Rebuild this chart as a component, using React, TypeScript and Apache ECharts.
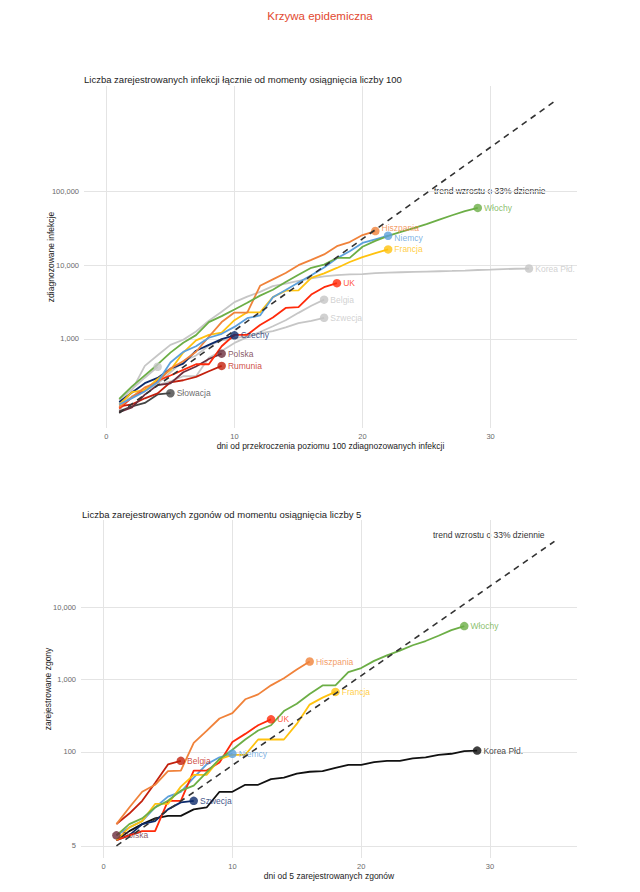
import { useEffect, useRef } from "react";
import * as echarts from "echarts";

// cases since 100th, day 1 onward
const infWlochy = [155, 229, 322, 453, 655, 888, 1128, 1694, 2036, 2502, 3089, 3858, 4636, 5883, 7375, 9172, 10149, 12462, 12462, 17660, 21157, 24747, 27980, 31506, 35713, 41035, 47021, 53578, 59138];
const infHiszpania = [120, 165, 222, 259, 400, 500, 673, 1073, 1695, 2277, 2277, 5232, 6391, 7798, 9942, 11748, 13910, 17963, 20410, 25374, 28768];
const infNiemcy = [130, 159, 196, 262, 482, 670, 799, 1040, 1176, 1457, 1908, 2078, 3675, 4585, 5795, 7272, 9257, 12327, 15320, 19848, 22213, 24873];
const infFrancja = [130, 191, 204, 288, 380, 656, 959, 1136, 1219, 1794, 2293, 2293, 3681, 4496, 4532, 6683, 7715, 9124, 10970, 12758, 14463, 16243];
const infKorea = [104, 204, 433, 602, 833, 977, 1261, 1766, 2337, 3150, 3736, 4335, 5186, 5621, 6088, 6593, 7041, 7314, 7478, 7513, 7755, 7869, 7979, 8086, 8162, 8236, 8320, 8413, 8565, 8652, 8799, 8897, 8961];
const infUK = [115, 163, 206, 273, 321, 382, 456, 456, 798, 1140, 1140, 1543, 1950, 2626, 2689, 3983, 5018, 5683];
const infBelgia = [109, 169, 200, 239, 267, 314, 314, 559, 689, 886, 1058, 1243, 1486, 1795, 2257, 2815, 3401];
const infSzwecja = [137, 161, 203, 248, 355, 500, 599, 814, 961, 1022, 1103, 1190, 1279, 1439, 1639, 1763, 1934];
const infCzechy = [141, 189, 253, 298, 396, 464, 694, 833, 995, 1120];
const infPolska = [103, 119, 177, 238, 251, 355, 425, 536, 634];
const infRumunia = [123, 131, 158, 184, 260, 277, 308, 367, 433];
const infSlowacja = [105, 123, 137, 178, 185];
const infInny = [150, 210, 300, 421];
const trendInf = [[1, 100], [35, 1627000]];

// deaths since 5th, day 1 onward
const zgWlochy = [7, 10, 12, 17, 21, 29, 34, 52, 79, 107, 148, 197, 233, 366, 463, 631, 827, 827, 1266, 1441, 1809, 2158, 2503, 2978, 3405, 4032, 4825, 5476];
const zgHiszpania = [10, 17, 28, 35, 54, 55, 133, 195, 289, 342, 533, 623, 830, 1043, 1375, 1772];
const zgFrancja = [6, 9, 11, 19, 19, 33, 48, 48, 79, 91, 91, 148, 148, 148, 243, 450, 562, 674];
const zgUK = [6, 7, 8, 8, 21, 21, 55, 55, 71, 137, 177, 233, 281];
const zgNiemcy = [7, 9, 11, 17, 24, 28, 44, 67, 84, 94];
const zgBelgia = [10, 14, 21, 37, 67, 75];
const zgSzwecja = [6, 7, 10, 11, 16, 20, 21];
const zgKorea = [6, 8, 10, 12, 13, 13, 16, 17, 28, 28, 35, 35, 42, 44, 50, 53, 54, 60, 66, 66, 72, 75, 75, 81, 84, 91, 94, 102, 104];
const zgPolska = [7];
const trendZg = [[1, 5], [35, 81350]];

const xTicks = [0, 10, 20, 30];
const yBreaksInf = [1000, 10000, 100000];
const yBreaksZg = [5, 100, 1000, 10000];

const C = {
  green: "#6cae46",
  orange: "#f0823a",
  blue: "#5ca0dc",
  gold: "#ffc20e",
  red: "#ff2a0a",
  darkRed: "#c3200d",
  maroon: "#6c2d3c",
  navy: "#0c2a6c",
  grey: "#c6c6c6",
  dark: "#454545",
  black: "#111111",
  grid: "#e4e4e4",
  text: "#222222",
  axis: "#6a6a6a",
};

const FONT = "'Liberation Sans', Arial, sans-serif";

function lineOf(name: string, values: number[], color: string, g: number, label = true, offset: number[] = [0, 0]) {
  const last = values.length - 1;
  return [
    {
      type: "line", name, xAxisIndex: g, yAxisIndex: g, silent: true,
      data: values.map((v, i) => [i + 1, v]),
      symbol: "none", lineStyle: { width: 1.8, color }, itemStyle: { color }, z: 3,
    },
    {
      type: "scatter", name: name + "-pt", xAxisIndex: g, yAxisIndex: g, silent: true,
      data: [[last + 1, values[last]]],
      symbol: "circle", symbolSize: 8.5, itemStyle: { color }, z: 4,
      label: {
        show: label, position: "right", distance: 2, formatter: name, offset,
        color, fontSize: 8.5, fontFamily: FONT,
      },
    },
  ];
}

function gridLines(g: number, breaks: number[], fmt: (v: number) => string) {
  return {
    type: "line", xAxisIndex: g, yAxisIndex: g, data: [], silent: true,
    markLine: {
      silent: true, symbol: ["none", "none"], z: 1, animation: false,
      lineStyle: { color: C.grid, type: "solid", width: 1 },
      data: [
        ...breaks.map((b) => ({
          yAxis: b,
          label: { show: true, position: "start", distance: 5, formatter: fmt(b), color: C.axis, fontSize: 7.5, fontFamily: FONT },
        })),
        ...xTicks.map((t) => ({ xAxis: t, label: { show: false } })),
      ],
    },
  };
}

function trendOf(data: number[][], g: number) {
  return {
    type: "line", xAxisIndex: g, yAxisIndex: g, silent: true, data,
    symbol: "none", lineStyle: { width: 1.6, color: "#333333", type: [6, 5] }, z: 5,
  };
}

const fmtNum = (v: number) => v.toLocaleString("en-US");

export default function App() {
  const ref = useRef<HTMLDivElement>(null);

  useEffect(() => {
    document.body.style.margin = "0";
    if (!ref.current) return;
    const chart = echarts.init(ref.current, null, { renderer: "svg" });

    const xAxisBase = (g: number, name: string) => ({
      type: "value", gridIndex: g, min: -1.75, max: 36.75, splitNumber: 4,
      axisLine: { show: false }, axisTick: { show: false }, splitLine: { show: false },
      axisLabel: {
        color: C.axis, fontSize: 7.5, fontFamily: FONT, margin: 4,
        formatter: (v: number) => (xTicks.includes(v) ? String(v) : ""),
      },
      name, nameLocation: "middle", nameGap: 13,
      nameTextStyle: { color: C.text, fontSize: 8.5, fontFamily: FONT },
    });
    const yAxisBase = (g: number, name: string, min: number, max: number) => ({
      type: "log", gridIndex: g, min, max, logBase: 10,
      axisLine: { show: false }, axisTick: { show: false }, splitLine: { show: false },
      axisLabel: { show: false },
      name, nameLocation: "middle", nameGap: 29, nameRotate: 90,
      nameTextStyle: { color: C.text, fontSize: 8.5, fontFamily: FONT },
    });

    chart.setOption({
      animation: false,
      backgroundColor: "#ffffff",
      textStyle: { fontFamily: FONT },
      title: [
        { text: "Krzywa epidemiczna", left: "center", top: 5, textStyle: { color: "#e2482f", fontSize: 11.5, fontWeight: "normal", fontFamily: FONT } },
        { text: "Liczba zarejestrowanych infekcji łącznie od momenty osiągnięcia liczby 100", left: 79, top: 69, textStyle: { color: C.text, fontSize: 9.5, fontWeight: "normal", fontFamily: FONT } },
        { text: "Liczba zarejestrowanych zgonów od momentu osiągnięcia liczby 5", left: 77, top: 504, textStyle: { color: C.text, fontSize: 9.5, fontWeight: "normal", fontFamily: FONT } },
      ],
      grid: [
        { left: 84, right: 63, top: 86, height: 342 },
        { left: 81, right: 63, top: 520, height: 338 },
      ],
      xAxis: [
        xAxisBase(0, "dni od przekroczenia poziomu 100 zdiagnozowanych infekcji"),
        xAxisBase(1, "dni od 5 zarejestrowanych zgonów"),
      ],
      yAxis: [
        yAxisBase(0, "zdiagnozowane infekcje", 62.7, 2624000),
        yAxisBase(1, "zarejestrowane zgony", 3.4, 160700),
      ],
      graphic: [
        { type: "text", left: 434, top: 186, style: { text: "trend wzrostu o 33% dziennie", fill: "#333", fontSize: 8.5, fontFamily: FONT } },
        { type: "text", left: 433, top: 530, style: { text: "trend wzrostu o 33% dziennie", fill: "#333", fontSize: 8.5, fontFamily: FONT } },
      ],
      series: [
        gridLines(0, yBreaksInf, fmtNum),
        gridLines(1, yBreaksZg, fmtNum),
        ...lineOf("Korea Płd.", infKorea, C.grey, 0),
        ...lineOf("Belgia", infBelgia, C.grey, 0),
        ...lineOf("Szwecja", infSzwecja, C.grey, 0),
        ...lineOf("", infInny, C.grey, 0, false),
        ...lineOf("Słowacja", infSlowacja, C.dark, 0),
        ...lineOf("Rumunia", infRumunia, C.darkRed, 0),
        ...lineOf("Polska", infPolska, C.maroon, 0),
        ...lineOf("Czechy", infCzechy, C.navy, 0),
        ...lineOf("UK", infUK, C.red, 0),
        ...lineOf("Francja", infFrancja, C.gold, 0),
        ...lineOf("Hiszpania", infHiszpania, C.orange, 0, true, [0, -3]),
        ...lineOf("Niemcy", infNiemcy, C.blue, 0, true, [0, 2]),
        ...lineOf("Włochy", infWlochy, C.green, 0),
        trendOf(trendInf, 0),
        ...lineOf("Korea Płd.", zgKorea, C.black, 1),
        ...lineOf("Polska", zgPolska, C.maroon, 1),
        ...lineOf("Szwecja", zgSzwecja, C.navy, 1),
        ...lineOf("Belgia", zgBelgia, C.darkRed, 1),
        ...lineOf("Hiszpania", zgHiszpania, C.orange, 1),
        ...lineOf("Niemcy", zgNiemcy, C.blue, 1),
        ...lineOf("UK", zgUK, C.red, 1),
        ...lineOf("Francja", zgFrancja, C.gold, 1),
        ...lineOf("Włochy", zgWlochy, C.green, 1),
        trendOf(trendZg, 1),
      ],
    });

    return () => chart.dispose();
  }, []);

  return <div ref={ref} style={{ width: 640, height: 892 }} />;
}
